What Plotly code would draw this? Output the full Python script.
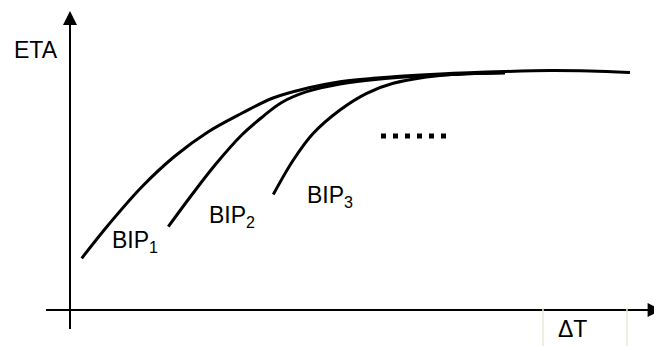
import plotly.graph_objects as go

# --- data (ΔT on x, ETA on y; arbitrary schematic units) ---
bip1_x = [1.95, 6.38, 11.95, 17.5, 23.05, 28.62, 33.83, 39.45, 45.0, 50.5, 61.67, 72.5, 80.0, 86.67, 93.33]
bip1_y = [17.23, 28.33, 41.0, 51.33, 59.43, 65.57, 70.67, 73.9, 76.1, 77.23, 78.67, 79.5, 79.83, 79.67, 79.17]

bip2_x = [16.38, 20.28, 24.17, 28.62, 31.95, 35.28, 39.45, 45.0, 51.67, 61.67, 72.5]
bip2_y = [27.77, 38.33, 48.33, 58.33, 64.17, 69.17, 72.77, 75.33, 77.0, 78.33, 79.17]

bip3_x = [33.88, 37.22, 40.55, 45.0, 49.45, 53.88, 61.67, 72.5]
bip3_y = [38.5, 50.0, 58.9, 66.67, 72.23, 75.57, 78.17, 79.0]

dots_x = [51.83, 62.67]
dots_y = [58.0, 58.0]

labels = ["BIP<sub>1</sub>", "BIP<sub>2</sub>", "BIP<sub>3</sub>"]
label_x = [10.75, 27.0, 43.25]
label_y = [22.67, 31.33, 37.67]

x_title, y_title = "ΔT", "ETA"
x_range = [-10.333, 98.667]
y_range = [-12.0, 100.667]

# axis lines (tail -> tip) in data units
yaxis_line_x, yaxis_line_y = [0, 0], [-6.33, 97.0]
yaxis_tip_x, yaxis_tip_y = [0], [99.67]
xaxis_line_x, xaxis_line_y = [-4.0, 96.5], [0, 0]
xaxis_tip_x, xaxis_tip_y = [98.6], [0]

FONT = "Liberation Sans, Arial, sans-serif"
FS = 23

fig = go.Figure()
for xs, ys in [(bip1_x, bip1_y), (bip2_x, bip2_y), (bip3_x, bip3_y)]:
    fig.add_trace(go.Scatter(x=xs, y=ys, mode="lines",
                             line=dict(color="black", width=3, shape="spline", smoothing=1.0),
                             hoverinfo="skip", showlegend=False))

fig.add_trace(go.Scatter(x=dots_x, y=dots_y, mode="lines",
                         line=dict(color="black", width=5, dash="5px,7px"),
                         hoverinfo="skip", showlegend=False))

# axes with arrowheads
fig.add_trace(go.Scatter(x=yaxis_line_x, y=yaxis_line_y, mode="lines",
                         line=dict(color="black", width=2), hoverinfo="skip", showlegend=False))
fig.add_trace(go.Scatter(x=xaxis_line_x, y=xaxis_line_y, mode="lines",
                         line=dict(color="black", width=2), hoverinfo="skip", showlegend=False))
fig.add_trace(go.Scatter(x=yaxis_tip_x, y=yaxis_tip_y, mode="markers",
                         marker=dict(symbol="arrow-up", size=14, color="black", line=dict(width=0)),
                         hoverinfo="skip", showlegend=False))
fig.add_trace(go.Scatter(x=xaxis_tip_x, y=xaxis_tip_y, mode="markers", cliponaxis=False,
                         marker=dict(symbol="arrow-right", size=14, color="black", line=dict(width=0)),
                         hoverinfo="skip", showlegend=False))

# faint table cell borders around ΔT
for cx in [78.83, 92.83]:
    fig.add_shape(type="line", xref="x", yref="y", x0=cx, x1=cx, y0=0.67, y1=-12,
                  line=dict(color="#ece8dc", width=1.5))

annotations = []
for t, lx, ly in zip(labels, label_x, label_y):
    annotations.append(dict(x=lx, y=ly, xref="x", yref="y", text=t, showarrow=False,
                            font=dict(family=FONT, size=FS, color="black")))
annotations.append(dict(x=-5.67, y=86.67, xref="x", yref="y", text=y_title, showarrow=False,
                        font=dict(family=FONT, size=FS, color="black")))
annotations.append(dict(x=83.75, y=-6.17, xref="x", yref="y", text=x_title, showarrow=False,
                        font=dict(family=FONT, size=FS, color="black")))

# the page adds an 8px body margin, so the figure is sized to fit the window
fig.update_layout(
    width=654, height=338,
    margin=dict(l=0, r=0, t=0, b=0),
    paper_bgcolor="white", plot_bgcolor="white",
    xaxis=dict(range=x_range, visible=False, fixedrange=True),
    yaxis=dict(range=y_range, visible=False, fixedrange=True),
    annotations=annotations,
    showlegend=False,
)

fig.write_html("out.html")
